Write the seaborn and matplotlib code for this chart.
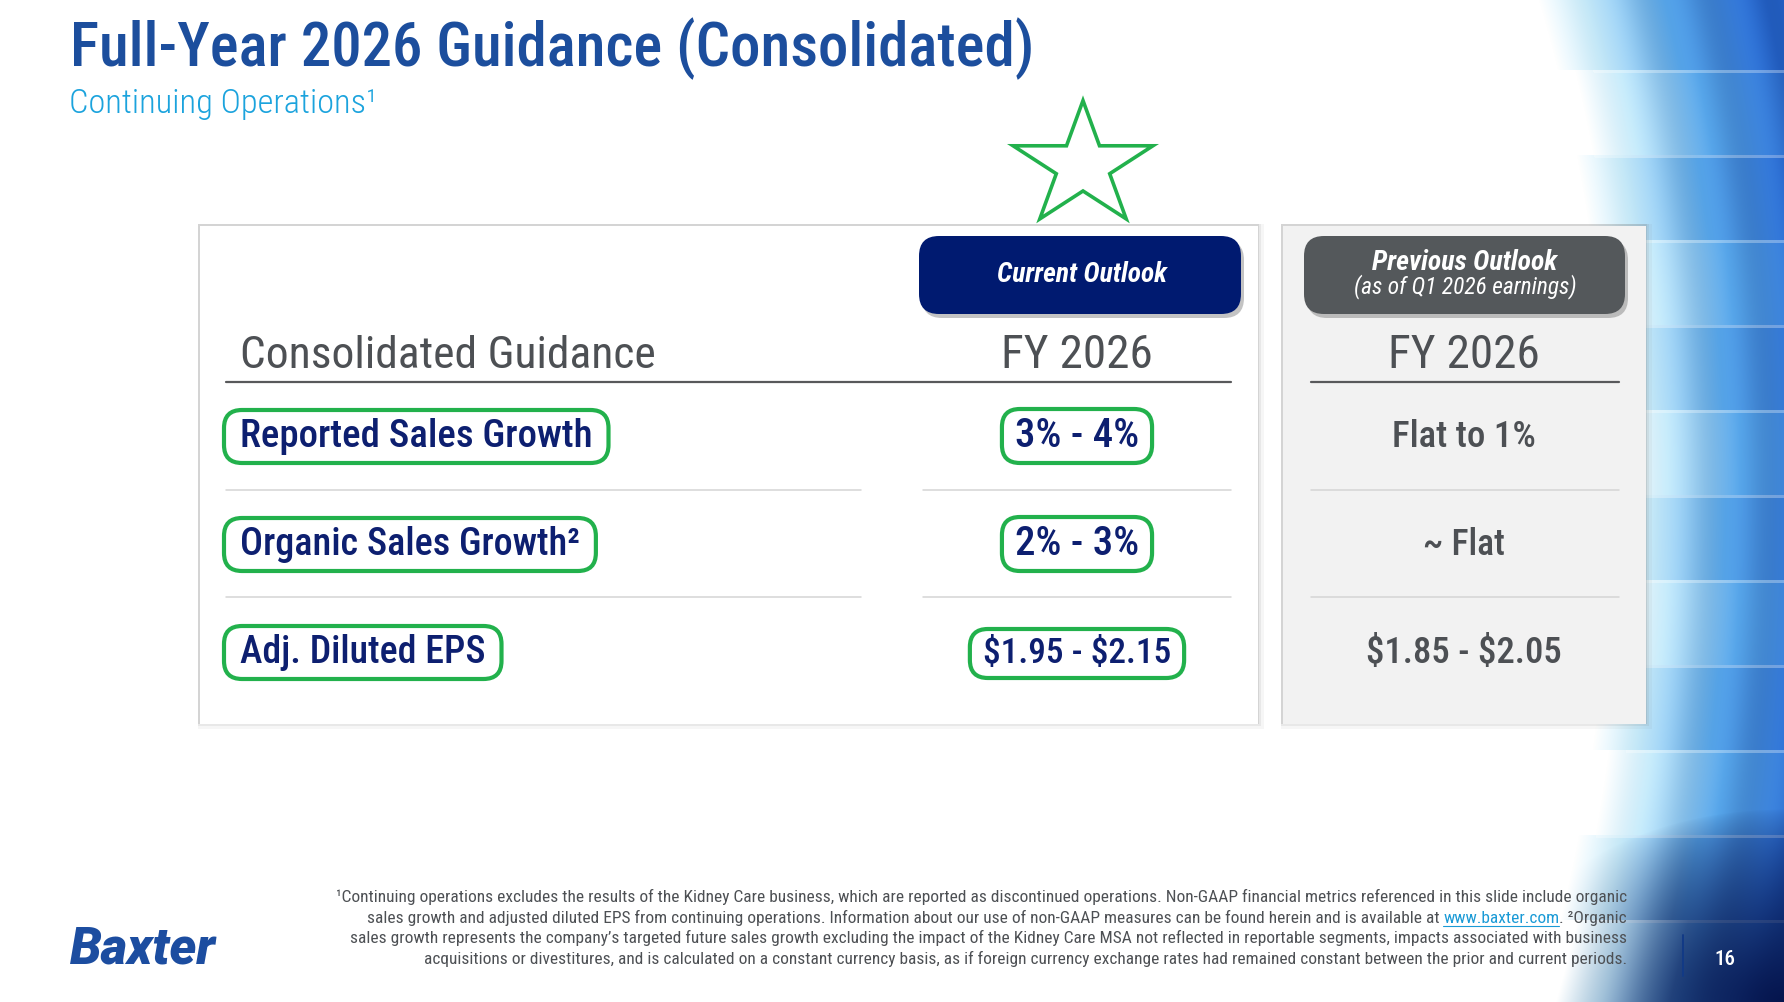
import numpy as np
import matplotlib
matplotlib.use('Agg')
import matplotlib.pyplot as plt
from matplotlib import font_manager
from matplotlib.patches import Rectangle, FancyBboxPatch, Polygon
import seaborn as sns

# ─────────────────────────────────────────────
# contenido de la diapositiva
# ─────────────────────────────────────────────
title = 'Full-Year 2026 Guidance (Consolidated)'
subtitle = 'Continuing Operations¹'
col_header = 'Consolidated Guidance'
period = 'FY 2026'
current_tag = 'Current Outlook'
previous_tag = ['Previous Outlook', '(as of Q1 2026 earnings)']
metrics = ['Reported Sales Growth', 'Organic Sales Growth²', 'Adj. Diluted EPS']
current = ['3% - 4%', '2% - 3%', '$1.95 - $2.15']
previous = ['Flat to 1%', '~ Flat', '$1.85 - $2.05']
foot_1 = ('¹Continuing operations excludes the results of the Kidney Care business, which are reported as '
          'discontinued operations. Non-GAAP financial metrics referenced in this slide include organic')
foot_2a = ('sales growth and adjusted diluted EPS from continuing operations. Information about our use of '
           'non-GAAP measures can be found herein and is available at')
foot_link = 'www.baxter.com'
foot_2b = '. ²Organic'
foot_3 = ('sales growth represents the company’s targeted future sales growth excluding the impact of the '
          'Kidney Care MSA not reflected in reportable segments, impacts associated with business')
foot_4 = ('acquisitions or divestitures, and is calculated on a constant currency basis, as if foreign '
          'currency exchange rates had remained constant between the prior and current periods.')
logo = 'Baxter'
page = '16'

# ─────────────────────────────────────────────
# estilo
# ─────────────────────────────────────────────
sns.set_theme(style='white')
have = {f.name for f in font_manager.fontManager.ttflist}
FONT = 'Roboto'
for cand in ['Roboto Condensed', 'Liberation Sans Narrow', 'Open Sans Condensed', 'Roboto']:
    if cand in have:
        FONT = cand
        break
plt.rcParams['font.family'] = [FONT, 'DejaVu Sans']

BLUE_T = '#1c4e9d'
CYAN_T = '#1ba3dd'
NAVY = '#0d1f70'
PILL_NAVY = '#001a70'
PILL_GREY = '#54585b'
GREY_T = '#4d5054'
GREEN = '#22b14c'
CARD_GREY = '#f2f2f2'

W, H = 1784, 1002
fig = plt.figure(figsize=(W / 100, H / 100), dpi=100)
ax = fig.add_axes([0, 0, 1, 1])
renderer = fig.canvas.get_renderer()

# ── fondo azul (decoración a la derecha) ──
yy, xx = np.mgrid[0:H, 0:W].astype(float)
dx = xx - 865
dy = (yy - 500) / 1.58
r = np.hypot(dx, dy)
right = np.clip(dx / 300, 0, 1)
band = np.floor((yy - 70) / 85)
r2 = r + np.where(band % 2 == 0, 0.0, 16.0)
s = np.clip((r2 - 760) / 210, 0, 1) * right
stops = [0.0, 0.2, 0.55, 1.0]
ramp = np.array([[1.0, 1.0, 1.0], [0.78, 0.92, 0.98], [0.33, 0.63, 0.89], [0.14, 0.38, 0.78]])
img = np.stack([np.interp(s, stops, ramp[:, c]) for c in range(3)], axis=-1)
img *= (1 - 0.06 * np.cos(2 * np.pi * r / 60) * s)[..., None]
edge = ((yy - 70) % 85 < 2.5) & (s > 0.08)
img[edge] = img[edge] + (1 - img[edge]) * 0.3
corner = np.hypot(W - xx, (H - yy) * 1.5)
g = (np.clip(1 - corner / 290, 0, 1) ** 0.7 * right * np.clip(s * 2, 0, 1))[..., None]
img = img * (1 - g) + np.array([0.02, 0.08, 0.30]) * g
ax.imshow(np.clip(img, 0, 1), extent=[0, W, H, 0], zorder=0, interpolation='bilinear')
ax.set_aspect('auto')
ax.set_xlim(0, W)
ax.set_ylim(H, 0)
ax.axis('off')


def put(x, y, txt, size, width=None, **kw):
    kw.setdefault('va', 'baseline')
    t = ax.text(x, y, txt, fontsize=size, zorder=6, parse_math=False, **kw)
    if width:
        w = t.get_window_extent(renderer).width
        t.set_fontsize(size * width / w)
    return t


def text_w(txt, size):
    t = ax.text(0, 0, txt, fontsize=size, parse_math=False)
    w = t.get_window_extent(renderer).width
    t.remove()
    return w


def extent(t):
    bb = t.get_window_extent(renderer)
    return bb.x0, bb.x1, H - bb.y1, H - bb.y0


def ring(t, padx, pady):
    x0, x1, y0, y1 = extent(t)
    ax.add_patch(FancyBboxPatch((x0 - padx, y0 - pady), x1 - x0 + 2 * padx, y1 - y0 + 2 * pady,
                                boxstyle='round,pad=0,rounding_size=18', fc='none', ec=GREEN,
                                lw=3.0, zorder=7))


def card(x0, y0, x1, y1, fc):
    for k, a in [(8, 0.06), (5, 0.10), (3, 0.16)]:
        ax.add_patch(Rectangle((x0 - 2, y0 - 2), x1 - x0 + k, y1 - y0 + k - 1,
                               fc='#6f6f6f', ec='none', alpha=a, zorder=2))
    ax.add_patch(Rectangle((x0, y0), x1 - x0, y1 - y0, fc=fc, ec='none', zorder=3))


def pill(x0, y0, x1, y1, fc):
    ax.add_patch(FancyBboxPatch((x0 + 3, y0 + 4), x1 - x0, y1 - y0,
                                boxstyle='round,pad=0,rounding_size=20', fc='#555555',
                                ec='none', alpha=0.35, zorder=4))
    ax.add_patch(FancyBboxPatch((x0, y0), x1 - x0, y1 - y0,
                                boxstyle='round,pad=0,rounding_size=20', fc=fc, ec='none', zorder=5))


# ── título ──
put(70, 66, title, 48, width=963, color=BLUE_T, fontweight='medium')
put(69, 113, subtitle, 24, width=308, color=CYAN_T, fontweight='light')

# ── estrella ──
k = np.arange(10)
ang = np.pi / 2 + k * np.pi / 5
rad = np.where(k % 2 == 0, 1.0, 0.382)
ax.add_patch(Polygon(np.column_stack([1083 + 73.5 * rad * np.cos(ang), 166 - 65.4 * rad * np.sin(ang)]),
                     closed=True, fc='none', ec=GREEN, lw=2.6, joinstyle='miter', zorder=7))

# ── tarjetas ──
card(200, 226, 1258, 724, 'white')
card(1283, 226, 1646, 724, CARD_GREY)
pill(919, 236, 1241, 314, PILL_NAVY)
pill(1304, 236, 1625, 314, PILL_GREY)
put(1082, 282, current_tag, 20, width=170, ha='center', color='white',
    fontweight='bold', fontstyle='italic')
put(1465, 270, previous_tag[0], 20, width=185, ha='center', color='white',
    fontweight='bold', fontstyle='italic')
put(1465, 293, previous_tag[1], 16, width=223, ha='center', color='white',
    fontstyle='italic')

# ── encabezados ──
put(240, 368, col_header, 34, width=416, color=GREY_T)
put(1077, 368, period, 34, width=152, ha='center', color=GREY_T)
put(1464, 368, period, 34, width=152, ha='center', color=GREY_T)
ax.plot([226, 1231], [382, 382], color='#58595b', lw=1.6, zorder=5)
ax.plot([1311, 1619], [382, 382], color='#58595b', lw=1.6, zorder=5)

# ── filas ──
row_y = [447, 555, 663]
label_w = [352, 340, 245]
cur_w = [124, 124, 188]
prev_w = [144, 82, 196]
for i in range(len(metrics)):
    y = row_y[i]
    t = put(240, y, metrics[i], 28, width=label_w[i], color=NAVY, fontweight='medium')
    ring(t, 16, 8)
    t = put(1077, y, current[i], 28, width=cur_w[i], ha='center', color=NAVY, fontweight='medium')
    ring(t, 13, 8)
    put(1464, y, previous[i], 28, width=prev_w[i], ha='center', color=GREY_T, fontweight='medium')
for y in [490, 597]:
    for x0, x1 in [(226, 861), (923, 1231), (1311, 1619)]:
        ax.plot([x0, x1], [y, y], color='#d4d4d4', lw=1.1, zorder=5)

# ── notas al pie ──
XR = 1627
t = put(XR, 902, foot_1, 10, width=1277, ha='right', color=GREY_T)
fs = t.get_fontsize()
t_b = put(XR, 923, foot_2b, fs, ha='right', color=GREY_T)
wb = t_b.get_window_extent(renderer).width
t_l = put(XR - wb, 923, foot_link, fs, ha='right', color='#1a9ad6')
wl = t_l.get_window_extent(renderer).width
ax.plot([XR - wb - wl, XR - wb], [926, 926], color='#1a9ad6', lw=0.8, zorder=6)
sp = text_w('a a', fs) - text_w('aa', fs)
put(XR - wb - wl - sp, 923, foot_2a, fs, ha='right', color=GREY_T)
put(XR, 943, foot_3, fs, ha='right', color=GREY_T)
put(XR, 964, foot_4, fs, ha='right', color=GREY_T)

# ── logo y número de página ──
put(70, 964, logo, 24, width=146, color='#1c4da0', fontweight='black', fontstyle='italic',
    family=['Roboto', 'DejaVu Sans'])
ax.plot([1683, 1683], [935, 976], color='#123a86', lw=1.4, zorder=6)
put(1725, 965, page, 16, width=21, ha='center', color='white', fontweight='medium')

plt.savefig('out.png', dpi=100)
plt.close()
